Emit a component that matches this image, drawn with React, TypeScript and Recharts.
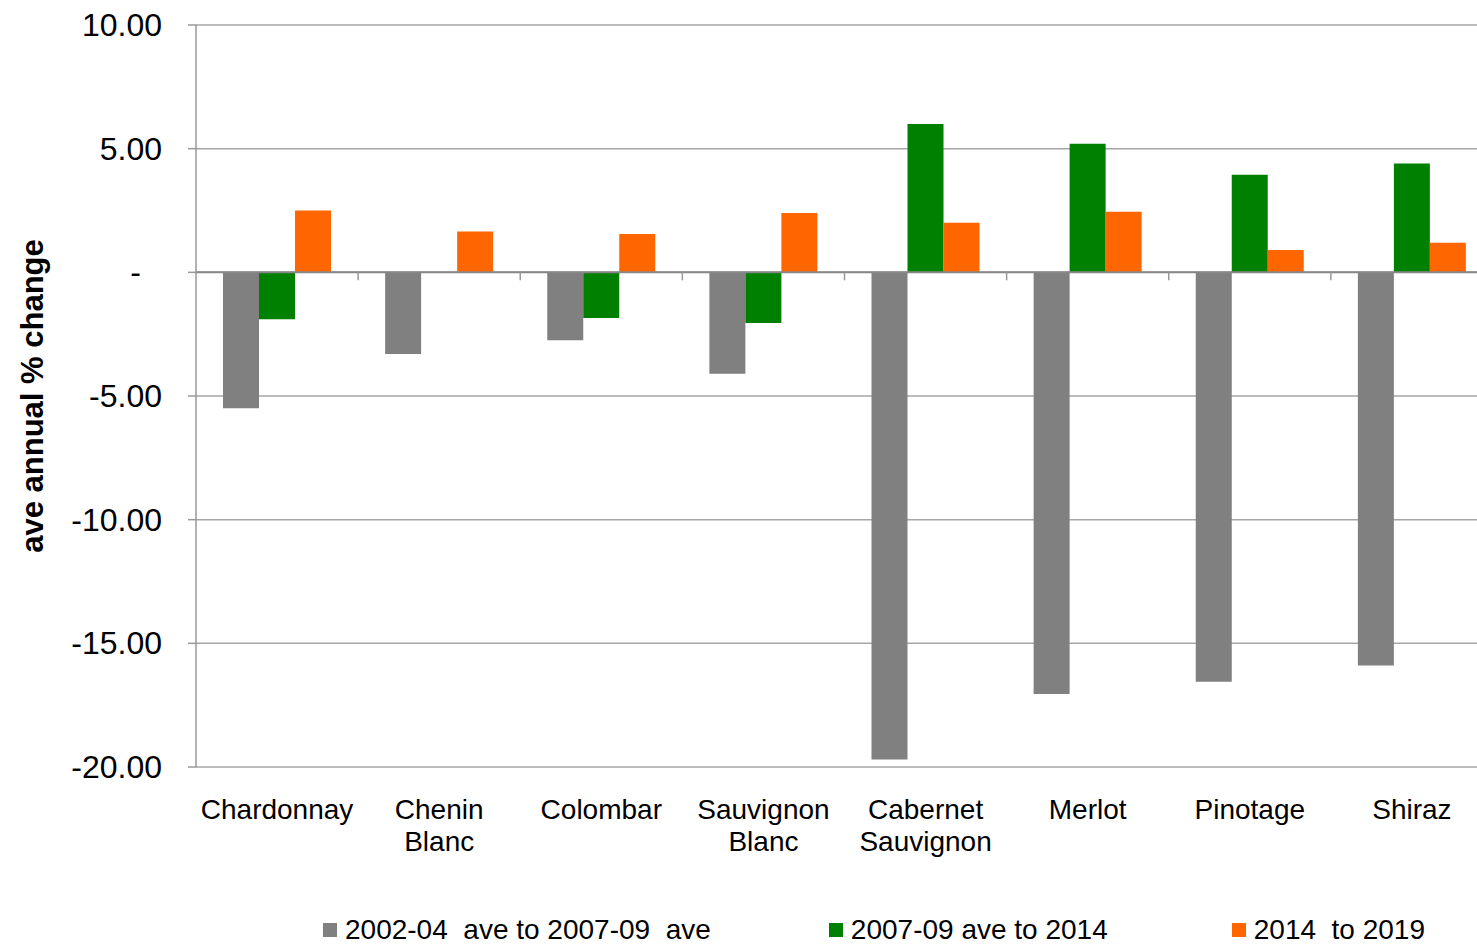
import { BarChart, Bar, XAxis, YAxis, CartesianGrid, ReferenceLine } from "recharts";

const categories = [
  "Chardonnay",
  "Chenin Blanc",
  "Colombar",
  "Sauvignon Blanc",
  "Cabernet Sauvignon",
  "Merlot",
  "Pinotage",
  "Shiraz",
];
const period1 = [-5.5, -3.3, -2.75, -4.1, -19.7, -17.05, -16.55, -15.9];
const period2 = [-1.9, 0, -1.85, -2.05, 6.0, 5.2, 3.95, 4.4];
const period3 = [2.5, 1.65, 1.55, 2.4, 2.0, 2.45, 0.9, 1.2];
const yTicks = [-20, -15, -10, -5, 0, 5, 10];

const SERIES = [
  { key: "p1", name: "2002-04  ave to 2007-09  ave", color: "#808080" },
  { key: "p2", name: "2007-09 ave to 2014", color: "#008000" },
  { key: "p3", name: "2014  to 2019", color: "#FF6600" },
];

const FONT = "'Liberation Sans', Arial, sans-serif";
const CHART_W = 1500;
const CHART_H = 948;
const M = { top: 25, right: 7, bottom: 0, left: 0 };
const Y_W = 196;
const X_H = 181;
const PLOT_H = CHART_H - M.top - M.bottom - X_H;
const PLOT_W = CHART_W - M.left - M.right - Y_W;
const BAND = PLOT_W / categories.length;
const ZERO_Y = M.top + (10 / 30) * PLOT_H;

const data = categories.map((c, i) => ({
  name: c,
  p1: period1[i],
  p2: period2[i],
  p3: period3[i],
}));

const XTick = ({ x, y, payload }: any) => {
  const words = String(payload.value).split(" ");
  const lines = words.length > 1 ? [words[0], words.slice(1).join(" ")] : words;
  return (
    <g>
      <line x1={x + BAND / 2} x2={x + BAND / 2} y1={ZERO_Y} y2={ZERO_Y + 8} stroke="#999" strokeWidth={1.5} />
      <text x={x} y={y + 52} textAnchor="middle" fontSize={28} fill="#000" fontFamily={FONT}>
        {lines.map((l, i) => (
          <tspan key={i} x={x} dy={i === 0 ? 0 : 32}>
            {l}
          </tspan>
        ))}
      </text>
    </g>
  );
};

const YTick = ({ x, y, payload }: any) => {
  const v = payload.value as number;
  const label = v === 0 ? "-" : v.toFixed(2);
  return (
    <text
      x={v === 0 ? x - 21 : x}
      y={y}
      dy={11}
      textAnchor="end"
      fontSize={32}
      fill="#000"
      fontFamily={FONT}
    >
      {label}
    </text>
  );
};

const YLabel = ({ viewBox }: any) => {
  const cx = viewBox.x + 32;
  const cy = viewBox.y + viewBox.height / 2;
  return (
    <text
      x={cx}
      y={cy}
      dy={11}
      transform={`rotate(-90 ${cx} ${cy})`}
      textAnchor="middle"
      fontSize={31}
      fontWeight="bold"
      fill="#000"
      fontFamily={FONT}
    >
      ave annual % change
    </text>
  );
};

export default function App() {
  return (
    <div style={{ position: "relative", width: 1477, height: 948, overflow: "hidden", background: "#fff" }}>
      <style>{`body{margin:0}`}</style>
      <BarChart width={CHART_W} height={CHART_H} data={data} margin={M} barSize={36} barGap={0}>
        <CartesianGrid vertical={false} stroke="#a6a6a6" strokeWidth={1.5} />
        <XAxis
          dataKey="name"
          height={X_H}
          axisLine={false}
          tickLine={false}
          tickSize={0}
          tickMargin={0}
          interval={0}
          tick={<XTick />}
        />
        <YAxis
          width={Y_W}
          domain={[-20, 10]}
          ticks={yTicks}
          interval={0}
          axisLine={{ stroke: "#999", strokeWidth: 1.5 }}
          tickLine={{ stroke: "#999", strokeWidth: 1.5 }}
          tickSize={8}
          tickMargin={26}
          tick={<YTick />}
          label={<YLabel />}
        />
        <ReferenceLine y={0} stroke="#878787" strokeWidth={2} />
        {SERIES.map((s) => (
          <Bar key={s.key} dataKey={s.key} name={s.name} fill={s.color} isAnimationActive={false} />
        ))}
      </BarChart>
      <div
        style={{
          position: "absolute",
          left: 323,
          top: 915,
          display: "flex",
          alignItems: "center",
          fontFamily: FONT,
          fontSize: 28,
          lineHeight: "30px",
          color: "#000",
          whiteSpace: "pre",
        }}
      >
        {SERIES.map((s, i) => (
          <div
            key={s.key}
            style={{ display: "flex", alignItems: "center", gap: 8, marginLeft: i === 0 ? 0 : i === 1 ? 118 : 124 }}
          >
            <div style={{ width: 14, height: 14, background: s.color }} />
            <span>{s.name}</span>
          </div>
        ))}
      </div>
    </div>
  );
}
